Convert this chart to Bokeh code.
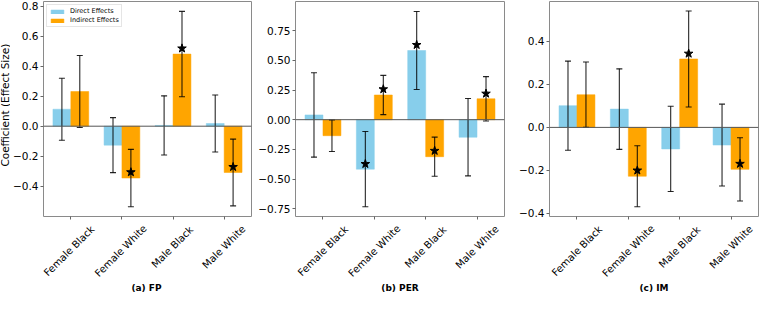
import math
import numpy as np
from bokeh.plotting import figure
from bokeh.models import (ColumnDataSource, FixedTicker, Legend, LegendItem, Span, Range1d)
from bokeh.transform import dodge
from bokeh.layouts import row, column
from bokeh.embed import file_html
from bokeh.resources import INLINE
from bokeh.core.properties import value

nan = float("nan")

# ---------------- data ----------------
groups = ["Female Black", "Female White", "Male Black", "Male White"]
series_names = ["Direct Effects", "Indirect Effects"]
panel_titles = ["(a) FP", "(b) PER", "(c) IM"]
y_axis_label = "Coefficient (Effect Size)"

fp_direct = [0.113, -0.126, 0.005, 0.018]
fp_direct_err = [0.206, 0.183, 0.197, 0.190]
fp_indirect = [0.231, -0.345, 0.480, -0.308]
fp_indirect_err = [0.240, 0.191, 0.284, 0.222]
fp_direct_star = [nan, nan, nan, nan]
fp_indirect_star = [nan, -0.306, 0.518, -0.271]

per_direct = [0.040, -0.417, 0.583, -0.148]
per_direct_err = [0.356, 0.317, 0.329, 0.326]
per_indirect = [-0.135, 0.208, -0.312, 0.176]
per_indirect_err = [0.133, 0.165, 0.165, 0.187]
per_direct_star = [nan, -0.373, 0.630, nan]
per_indirect_star = [nan, 0.257, -0.262, 0.220]

im_direct = [0.101, 0.085, -0.100, -0.082]
im_direct_err = [0.207, 0.187, 0.198, 0.190]
im_indirect = [0.152, -0.227, 0.318, -0.195]
im_indirect_err = [0.152, 0.142, 0.223, 0.147]
im_direct_star = [nan, nan, nan, nan]
im_indirect_star = [nan, -0.200, 0.343, -0.169]

fp_yticks = [-0.4, -0.2, 0.0, 0.2, 0.4, 0.6, 0.8]
fp_ytick_labels = ["\u22120.4", "\u22120.2", "0.0", "0.2", "0.4", "0.6", "0.8"]
per_yticks = [-0.75, -0.5, -0.25, 0.0, 0.25, 0.5, 0.75]
per_ytick_labels = ["\u22120.75", "\u22120.50", "\u22120.25", "0.00", "0.25", "0.50", "0.75"]
im_yticks = [-0.4, -0.2, 0.0, 0.2, 0.4]
im_ytick_labels = ["\u22120.4", "\u22120.2", "0.0", "0.2", "0.4"]

fp_ylim = (-0.601, 0.830)
per_ylim = (-0.816, 0.996)
im_ylim = (-0.414, 0.585)

# ---------------- style / layout ----------------
FONT = "DejaVu Sans"
C_DIRECT = "#87CEEB"
C_INDIRECT = "#FFA500"
BAR_W = 0.35
X_PAD = 0.535
FRAME_H = 215
BOTTOM_B = 7                  # main figure border below the frame (holds x ticks)
MAIN_H = FRAME_H + 1 + BOTTOM_B
LAB_H = 300 - MAIN_H          # strip below for category labels and caption
TICK_FS = 10.5
XLAB_FS = 10
STRIP_W = 10                  # strip holding the y-axis title


def blank_fig(w, h, xr, yr):
    f = figure(width=w, height=h, output_backend="svg", toolbar_location=None,
               x_range=xr, y_range=yr, x_axis_location=None, y_axis_location=None,
               min_border_left=0, min_border_right=0, min_border_top=0,
               min_border_bottom=0)
    f.grid.visible = False
    f.outline_line_color = None
    f.background_fill_color = "white"
    f.border_fill_color = "white"
    return f


def make_panel(direct, derr, indirect, ierr, dstar, istar, yticks, ylabels, ylim,
               title, first, border_left, border_right, frame_w, lab_left_extra=0):
    idx = list(range(len(groups)))
    src = ColumnDataSource(dict(
        idx=idx,
        direct=direct, indirect=indirect,
        d_lo=[v - e for v, e in zip(direct, derr)],
        d_hi=[v + e for v, e in zip(direct, derr)],
        i_lo=[v - e for v, e in zip(indirect, ierr)],
        i_hi=[v + e for v, e in zip(indirect, ierr)],
        d_star=np.array(dstar, dtype=float),
        i_star=np.array(istar, dtype=float),
    ))
    x0, x1 = -X_PAD, len(groups) - 1 + X_PAD
    y0, y1 = ylim
    ppx = frame_w / (x1 - x0)

    width = border_left + frame_w + border_right
    p = figure(width=width, height=MAIN_H, output_backend="svg", toolbar_location=None,
               x_range=Range1d(x0, x1), y_range=Range1d(y0, y1),
               min_border_left=border_left, min_border_right=border_right,
               min_border_top=1, min_border_bottom=BOTTOM_B)
    p.grid.visible = False
    p.outline_line_color = "#8a8a8a"
    p.outline_line_width = 1
    p.background_fill_color = "white"
    p.border_fill_color = "white"

    xd = dodge("idx", -BAR_W / 2)
    xi = dodge("idx", BAR_W / 2)
    rd = p.vbar(x=xd, top="direct", bottom=0, width=BAR_W, source=src,
                fill_color=C_DIRECT, line_color=C_DIRECT, line_width=0.5)
    ri = p.vbar(x=xi, top="indirect", bottom=0, width=BAR_W, source=src,
                fill_color=C_INDIRECT, line_color=C_INDIRECT, line_width=0.5)

    p.add_layout(Span(location=0, dimension="width", line_color="#555555", line_width=1))

    for xx, lo, hi in ((xd, "d_lo", "d_hi"), (xi, "i_lo", "i_hi")):
        p.segment(x0=xx, y0=lo, x1=xx, y1=hi, source=src, line_color="black",
                  line_width=1.1, line_alpha=0.85)
        p.scatter(x=xx, y=lo, source=src, marker="dash", size=6, line_color="black",
                  line_width=1.1, line_alpha=0.85)
        p.scatter(x=xx, y=hi, source=src, marker="dash", size=6, line_color="black",
                  line_width=1.1, line_alpha=0.85)

    p.scatter(x=xd, y="d_star", source=src, marker="star", size=9,
              fill_color="black", line_color="black")
    p.scatter(x=xi, y="i_star", source=src, marker="star", size=9,
              fill_color="black", line_color="black")

    # x axis: tick marks only (category names are drawn rotated in the strip below)
    p.xaxis.ticker = FixedTicker(ticks=idx)
    p.xaxis.major_label_overrides = {i: "" for i in idx}
    p.xaxis.major_label_text_font_size = "1px"
    p.xaxis.major_label_standoff = 0
    # y axis
    p.yaxis.ticker = FixedTicker(ticks=yticks)
    p.yaxis.major_label_overrides = {t: l for t, l in zip(yticks, ylabels)}
    p.yaxis.major_label_text_font = FONT
    p.yaxis.major_label_text_font_size = f"{TICK_FS}px"
    p.yaxis.major_label_text_color = "black"
    p.yaxis.major_label_standoff = 2
    for ax in (p.xaxis[0], p.yaxis[0]):
        ax.axis_line_color = None
        ax.major_tick_in = 0
        ax.major_tick_out = 3
        ax.major_tick_line_color = "#666666"
        ax.minor_tick_line_color = None

    if first:
        legend = Legend(items=[LegendItem(label=series_names[0], renderers=[rd]),
                               LegendItem(label=series_names[1], renderers=[ri])],
                        location="top_left", margin=3, padding=2, spacing=1,
                        glyph_width=16, glyph_height=5, label_height=8,
                        label_standoff=5, label_text_font=FONT,
                        label_text_font_size="6.5px", label_text_color="black",
                        border_line_color="#cccccc", border_line_width=1,
                        background_fill_color="white", background_fill_alpha=0.8)
        p.add_layout(legend)

    # ---- strip below: rotated category labels and caption ----
    lab_w = width + lab_left_extra
    left_px = lab_left_extra + border_left          # frame left inside the strip
    lab_xr = Range1d(x0 - left_px / ppx, x0 + (lab_w - left_px) / ppx)
    lab = blank_fig(lab_w, LAB_H, lab_xr, Range1d(-LAB_H, 0))
    # y in this strip = pixels below the main figure's bottom edge
    offs = []
    for g in groups:
        w = len(g) * 0.56 * XLAB_FS
        h = 1.16 * XLAB_FS
        offs.append(-(6.5 + (w + h) / (2 * math.sqrt(2)) - BOTTOM_B))
    lab.text(x=idx, y=offs, text=groups, angle=math.pi / 4, text_align="center",
             text_baseline="middle", text_font=value(FONT),
             text_font_size=value(f"{XLAB_FS}px"), text_color="black")
    lab.text(x=[(x0 + x1) / 2], y=[-(71 - BOTTOM_B)], text=[title], text_align="center",
             text_baseline="middle", text_font=value(FONT), text_font_size=value("9px"),
             text_font_style="bold", text_color="black")

    if first:
        strip = blank_fig(lab_left_extra, MAIN_H, Range1d(0, lab_left_extra),
                          Range1d(-BOTTOM_B, MAIN_H - BOTTOM_B))
        strip.text(x=[4.5], y=[1 + FRAME_H / 2], text=[y_axis_label], angle=math.pi / 2,
                   text_align="center", text_baseline="middle", text_font=value(FONT),
                   text_font_size=value(f"{TICK_FS}px"), text_color="black")
        return column(row(strip, p), lab)
    # wrap in a row so the strip's frame is not aligned to the panel's frame
    return column(row(p), lab)


c1 = make_panel(fp_direct, fp_direct_err, fp_indirect, fp_indirect_err,
                fp_direct_star, fp_indirect_star, fp_yticks, fp_ytick_labels, fp_ylim,
                panel_titles[0], True, 41 - STRIP_W, 3, 210, lab_left_extra=STRIP_W)
c2 = make_panel(per_direct, per_direct_err, per_indirect, per_indirect_err,
                per_direct_star, per_indirect_star, per_yticks, per_ytick_labels, per_ylim,
                panel_titles[1], False, 41, 4, 209)
c3 = make_panel(im_direct, im_direct_err, im_indirect, im_indirect_err,
                im_direct_star, im_indirect_star, im_yticks, im_ytick_labels, im_ylim,
                panel_titles[2], False, 41, 1, 209)

layout = row(c1, c2, c3)
open("out.html", "w").write(file_html(layout, INLINE))
